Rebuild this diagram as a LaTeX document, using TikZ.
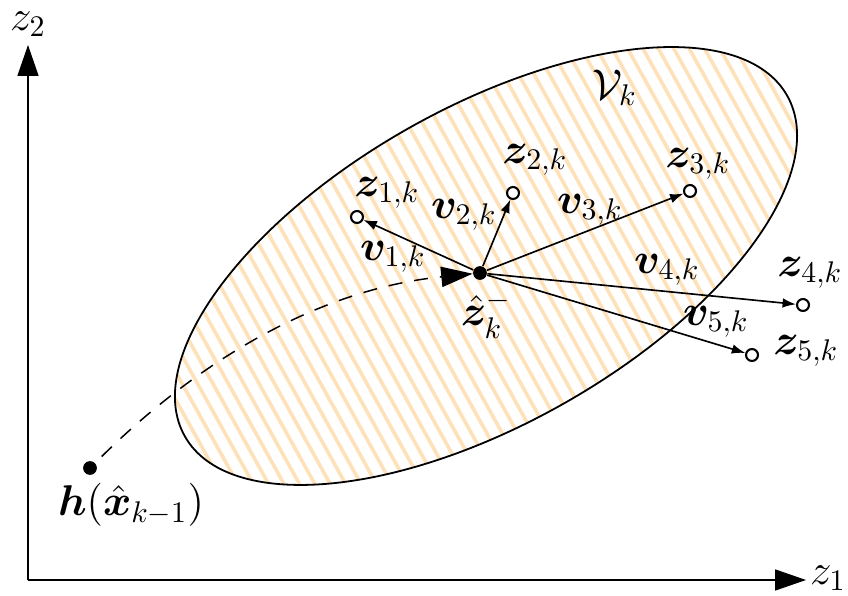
\documentclass[tikz,border=0pt]{standalone}
\usepackage{amsmath}
\usepackage{amssymb}
\usepackage{bm}
\usepackage{xcolor}
\usepackage{tikz}
\usetikzlibrary{arrows.meta,positioning}
\definecolor{hatchorange}{RGB}{255,225,185}
\tikzset{
    axisarrow/.style={-{Triangle[length=10.3pt, width=7pt]}, line width=0.5pt},
    ptfilled/.style={circle, fill=black, inner sep=0pt, minimum size=4.6pt},
    ptopen/.style={circle, draw, fill=white, line width=0.7pt, inner sep=0pt, minimum size=4pt},
    vecarrow/.style={-{Latex[length=4.5pt, width=3.2pt]}, line width=0.55pt},
    predarrow/.style={-{Triangle[length=10.5pt, width=6.8pt]}, dash pattern=on 4.7pt off 4pt, line width=0.5pt},
    ptlabel/.style={font=\Large, inner sep=1pt},
    hatchline/.style={hatchorange, line width=1.2pt}
}

\begin{document}
\begin{tikzpicture}[x=0.011765cm, y=-0.011765cm]
    \useasboundingbox (0,0) rectangle (848,596);

    % validation region
    \begin{scope}
        \clip[rotate around={29.5:(486,266)}] (486,266) ellipse [x radius=346, y radius=158];
        \foreach \i in {-40,...,60}
            \draw[hatchline] ({\i*15.4},0) -- ({\i*15.4+333},600);
    \end{scope}
    \draw[line width=0.6pt, rotate around={29.5:(486,266)}] (486,266) ellipse [x radius=346, y radius=158];
    \node[ptlabel] (vk) at (615,88) {$\mathcal{V}_k$};

    % axes
    \coordinate (orig) at (28,580);
    \coordinate (z1end) at (806,580);
    \coordinate (z2end) at (28,45);
    \draw[axisarrow] (orig) -- (z2end);
    \draw[axisarrow] (orig) -- (z1end);
    \node[ptlabel] (z1ax) at (828,578) {$z_1$};
    \node[ptlabel, inner sep=0pt] (z2ax) at (28,24) {$z_2$};

    % points
    \node[ptfilled] (zhat) at (480,273) {};
    \node[ptfilled] (hprev) at (90,468) {};
    \node[ptopen] (z1) at (357,217) {};
    \node[ptopen] (z2) at (513,193) {};
    \node[ptopen] (z3) at (690,191) {};
    \node[ptopen] (z4) at (803,305) {};
    \node[ptopen] (z5) at (752,355) {};

    % prediction
    \draw[predarrow, shorten <=3pt] (hprev) .. controls (210,350) and (330,288) .. (zhat);

    % innovations
    \draw[vecarrow] (zhat) -- (z1);
    \draw[vecarrow] (zhat) -- (z2);
    \draw[vecarrow] (zhat) -- (z3);
    \draw[vecarrow] (zhat) -- (z4);
    \draw[vecarrow] (zhat) -- (z5);

    % labels
    \node[ptlabel] (zhatlab) at (486,315) {$\hat{\boldsymbol{z}}_k^-$};
    \node[ptlabel] (hlab) at (131,505) {$\boldsymbol{h}(\hat{\boldsymbol{x}}_{k-1})$};
    \node[ptlabel] (z1lab) at (387,193) {$\boldsymbol{z}_{1,k}$};
    \node[ptlabel] (z2lab) at (535,160) {$\boldsymbol{z}_{2,k}$};
    \node[ptlabel] (z3lab) at (698,164) {$\boldsymbol{z}_{3,k}$};
    \node[ptlabel] (z4lab) at (810,273) {$\boldsymbol{z}_{4,k}$};
    \node[ptlabel] (z5lab) at (806,351) {$\boldsymbol{z}_{5,k}$};
    \node[ptlabel] (v1lab) at (393,257) {$\boldsymbol{v}_{1,k}$};
    \node[ptlabel] (v2lab) at (464,215) {$\boldsymbol{v}_{2,k}$};
    \node[ptlabel] (v3lab) at (590,210) {$\boldsymbol{v}_{3,k}$};
    \node[ptlabel] (v4lab) at (667,270) {$\boldsymbol{v}_{4,k}$};
    \node[ptlabel] (v5lab) at (716,322) {$\boldsymbol{v}_{5,k}$};
\end{tikzpicture}
\end{document}
